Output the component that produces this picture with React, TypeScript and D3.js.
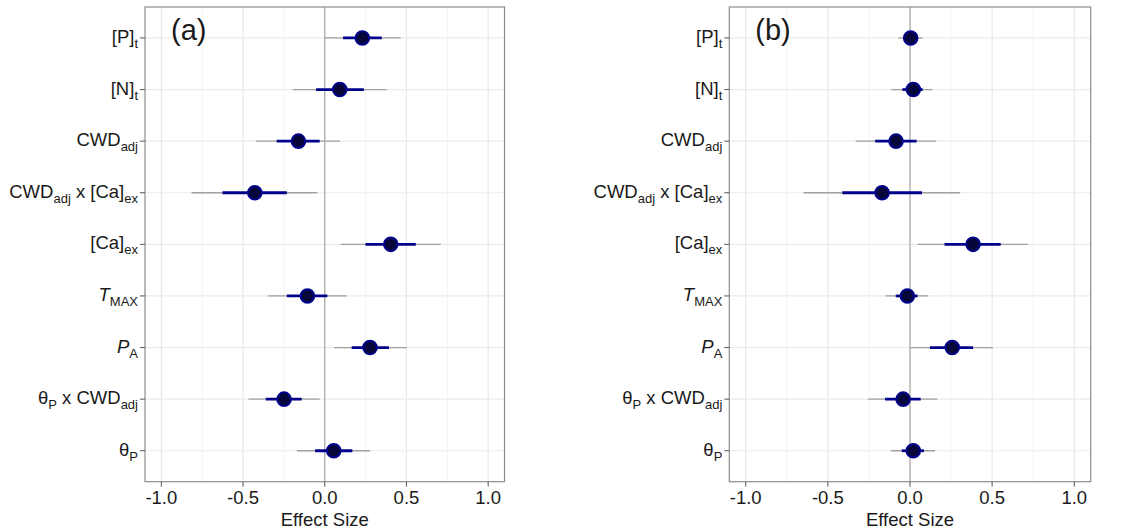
import React from "react";
import * as d3 from "d3";

const categories = ["P", "N", "CWD", "CWDxCa", "Ca", "TMAX", "PA", "thetaxCWD", "theta"];

const estA = [0.23, 0.092, -0.161, -0.428, 0.404, -0.106, 0.277, -0.249, 0.055];
const innerLoA = [0.112, -0.053, -0.294, -0.626, 0.249, -0.232, 0.165, -0.361, -0.059];
const innerHiA = [0.349, 0.239, -0.031, -0.232, 0.557, 0.016, 0.393, -0.141, 0.169];
const outerLoA = [-0.004, -0.194, -0.422, -0.815, 0.098, -0.349, 0.057, -0.467, -0.171];
const outerHiA = [0.465, 0.379, 0.094, -0.045, 0.709, 0.135, 0.502, -0.031, 0.277];

const estB = [0.004, 0.02, -0.085, -0.17, 0.384, -0.016, 0.257, -0.042, 0.02];
const innerLoB = [-0.03, -0.046, -0.212, -0.412, 0.21, -0.087, 0.121, -0.152, -0.05];
const innerHiB = [0.04, 0.077, 0.04, 0.073, 0.552, 0.046, 0.384, 0.065, 0.085];
const outerLoB = [-0.071, -0.115, -0.331, -0.648, 0.046, -0.149, 0.0, -0.257, -0.117];
const outerHiB = [0.077, 0.137, 0.16, 0.305, 0.717, 0.111, 0.505, 0.166, 0.152];

const xTicks = [-1.0, -0.5, 0.0, 0.5, 1.0];
const xMinor = [-0.75, -0.25, 0.25, 0.75];
const panelLabels = ["(a)", "(b)"];

// label segments: [text, kind] where kind: "n" normal, "s" subscript, "i" italic
const labelParts: Record<string, [string, string][]> = {
  P: [["[P]", "n"], ["t", "s"]],
  N: [["[N]", "n"], ["t", "s"]],
  CWD: [["CWD", "n"], ["adj", "s"]],
  CWDxCa: [["CWD", "n"], ["adj", "s"], [" x [Ca]", "n"], ["ex", "s"]],
  Ca: [["[Ca]", "n"], ["ex", "s"]],
  TMAX: [["T", "i"], ["MAX", "s"]],
  PA: [["P", "i"], ["A", "s"]],
  thetaxCWD: [["θ", "n"], ["P", "s"], [" x CWD", "n"], ["adj", "s"]],
  theta: [["θ", "n"], ["P", "s"]],
};

const FONT = "'Liberation Sans', Arial, sans-serif";
const TXT = "#1a1a1a";
const FS = 18.5;
const SUBFS = 13;
const SUBDY = 5;

function CatLabel({ k }: { k: string }) {
  const parts = labelParts[k];
  let shifted = false;
  return (
    <>
      {parts.map(([t, kind], i) => {
        const isSub = kind === "s";
        let dy = 0;
        if (isSub && !shifted) { dy = SUBDY; shifted = true; }
        else if (!isSub && shifted) { dy = -SUBDY; shifted = false; }
        return (
          <tspan key={i} dy={dy} fontSize={isSub ? SUBFS : FS} fontStyle={kind === "i" ? "italic" : "normal"}>
            {t}
          </tspan>
        );
      })}
    </>
  );
}

function Panel({
  left, top, width, height, label, est, iLo, iHi, oLo, oHi,
}: {
  left: number; top: number; width: number; height: number; label: string;
  est: number[]; iLo: number[]; iHi: number[]; oLo: number[]; oHi: number[];
}) {
  const x = d3.scaleLinear().domain([-1.1, 1.1]).range([left, left + width]);
  const y = d3.scalePoint<string>().domain(categories).range([top, top + height]).padding(0.6);
  const bottom = top + height;
  return (
    <g>
      <rect x={left} y={top} width={width} height={height} fill="#fff" />
      {xMinor.map((v) => (
        <line key={"mn" + v} x1={x(v)} x2={x(v)} y1={top} y2={bottom} stroke="#f0f0f0" strokeWidth={0.8} />
      ))}
      {xTicks.map((v) => (
        <line key={"mj" + v} x1={x(v)} x2={x(v)} y1={top} y2={bottom} stroke="#e8e8e8" strokeWidth={1.2} />
      ))}
      {categories.map((c) => (
        <line key={"hg" + c} x1={left} x2={left + width} y1={y(c)} y2={y(c)} stroke="#ebebeb" strokeWidth={1.2} />
      ))}
      <line x1={x(0)} x2={x(0)} y1={top} y2={bottom} stroke="#aaaaaa" strokeWidth={1.2} />
      {categories.map((c, i) => (
        <g key={"m" + c}>
          <line x1={x(oLo[i])} x2={x(oHi[i])} y1={y(c)} y2={y(c)} stroke="#a0a0a0" strokeWidth={1.3} />
          <line x1={x(iLo[i])} x2={x(iHi[i])} y1={y(c)} y2={y(c)} stroke="#00008b" strokeWidth={2.8} />
          <circle cx={x(est[i])} cy={y(c)} r={6.8} fill="#06063a" stroke="#00008b" strokeWidth={2} />
        </g>
      ))}
      <rect x={left} y={top} width={width} height={height} fill="none" stroke="#8c8c8c" strokeWidth={1.2} />
      {categories.map((c) => (
        <g key={"yl" + c}>
          <line x1={left - 5} x2={left} y1={y(c)} y2={y(c)} stroke="#555" strokeWidth={1} />
          <text x={left - 7} y={(y(c) as number) + 5} textAnchor="end" fontSize={FS} fontFamily={FONT} fill={TXT}>
            <CatLabel k={c} />
          </text>
        </g>
      ))}
      {xTicks.map((v) => (
        <g key={"xl" + v}>
          <line x1={x(v)} x2={x(v)} y1={bottom} y2={bottom + 5} stroke="#555" strokeWidth={1} />
          <text x={x(v)} y={bottom + 22} textAnchor="middle" fontSize={FS} fontFamily={FONT} fill={TXT}>
            {v.toFixed(1)}
          </text>
        </g>
      ))}
      <text x={x(0)} y={bottom + 44} textAnchor="middle" fontSize={FS} fontFamily={FONT} fill={TXT}>
        Effect Size
      </text>
      <text x={left + 26} y={top + 33} fontSize={29} fontFamily={FONT} fill={TXT}>
        {label}
      </text>
    </g>
  );
}

export default function App() {
  return (
    <svg width={1126} height={531} style={{ position: "absolute", left: 0, top: 0, background: "#fff" }}>
      <rect width={1126} height={531} fill="#fff" />
      <Panel left={145} top={7} width={359.5} height={474.7} label={panelLabels[0]}
        est={estA} iLo={innerLoA} iHi={innerHiA} oLo={outerLoA} oHi={outerHiA} />
      <Panel left={729.3} top={7} width={361.4} height={474.7} label={panelLabels[1]}
        est={estB} iLo={innerLoB} iHi={innerHiB} oLo={outerLoB} oHi={outerHiB} />
    </svg>
  );
}
